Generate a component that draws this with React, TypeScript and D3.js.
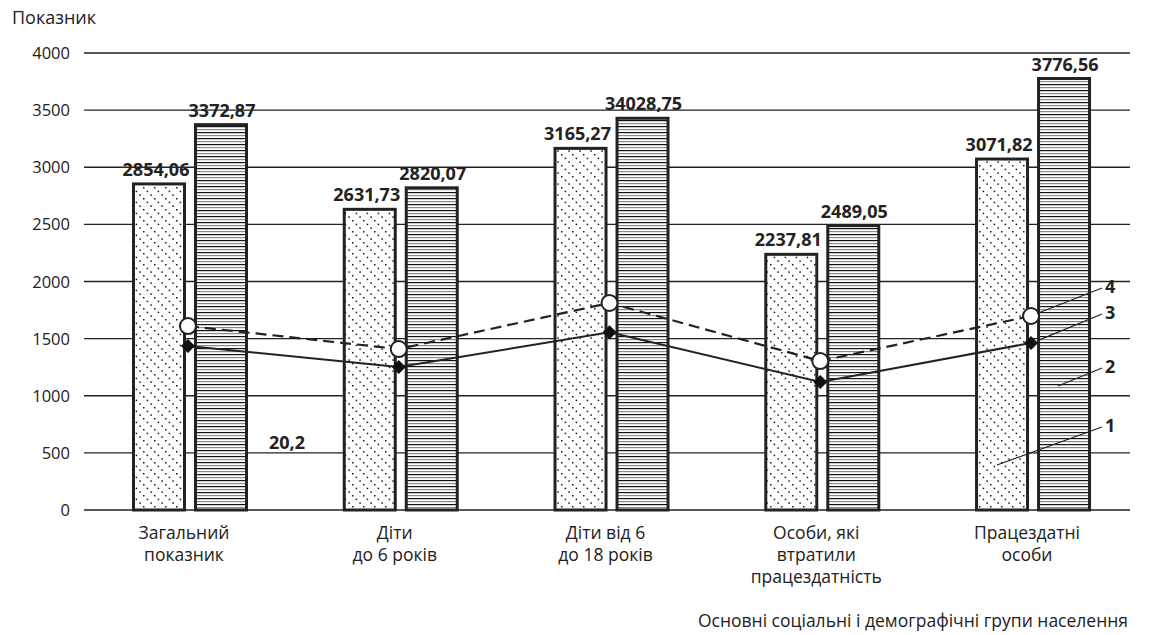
import React from "react";
import * as d3 from "d3";

const categories: string[][] = [
  ["Загальний", "показник"],
  ["Діти", "до 6 років"],
  ["Діти від 6", "до 18 років"],
  ["Особи, які", "втратили", "працездатність"],
  ["Працездатні", "особи"],
];
const series1: number[] = [2854.06, 2631.73, 3165.27, 2237.81, 3071.82];
const series2: number[] = [3372.87, 2820.07, 3428.75, 2489.05, 3776.56];
const series1Labels: string[] = ["2854,06", "2631,73", "3165,27", "2237,81", "3071,82"];
const series2Labels: string[] = ["3372,87", "2820,07", "34028,75", "2489,05", "3776,56"];
const series3: number[] = [1435, 1252, 1555, 1120, 1462];
const series4: number[] = [1610, 1409, 1812, 1304, 1698];
const yTicks: number[] = [0, 500, 1000, 1500, 2000, 2500, 3000, 3500, 4000];
const strayLabel = { text: "20,2", value: 500 };
const yTitle = "Показник";
const xTitle = "Основні соціальні і демографічні групи населення";
// legend leaders: anchor on last group, value at start and end
const leaders = [
  { num: "1", anchor: "s1", fromValue: 394, toValue: 726 },
  { num: "2", anchor: "s2", fromValue: 1085, toValue: 1243 },
  { num: "3", anchor: "l3", fromValue: 1480, toValue: 1716 },
  { num: "4", anchor: "l4", fromValue: 1720, toValue: 1943 },
];

const FONT = "'Open Sans', 'Noto Sans', sans-serif";

export default function App() {
  const W = 1160;
  const H = 635;
  const gridX0 = 84;
  const gridX1 = 1130;
  const keys = categories.map((c) => c.join(" "));
  const x0 = d3.scaleBand<string>().domain(keys).range([84.6, 1138.4]).padding(0);
  const x1 = d3
    .scaleBand<string>()
    .domain(["s1", "s2"])
    .range([48.9, 161.9])
    .paddingInner(11 / 62)
    .paddingOuter(0);
  const y = d3.scaleLinear().domain([0, 4000]).range([510, 53]);
  const bw = x1.bandwidth();
  const center = (i: number) => (x0(keys[i]) as number) + x0.bandwidth() / 2;
  const ptX = (i: number) => center(i) - 2;

  const lineGen = d3
    .line<number>()
    .x((_, i) => ptX(i))
    .y((d) => y(d));

  const last = keys.length - 1;
  const anchorX = (a: string) => {
    const b = x0(keys[last]) as number;
    if (a === "s1") return b + (x1("s1") as number) + bw * 0.4;
    if (a === "s2") return b + (x1("s2") as number) + bw * 0.38;
    return ptX(last) + 6;
  };
  const labelX = gridX1 - 25;

  return (
    <svg width={W} height={H} style={{ position: "absolute", left: 0, top: 0, background: "#fff" }}>
      <defs>
        <pattern id="hatch" patternUnits="userSpaceOnUse" width={11} height={11}>
          <rect width={11} height={11} fill="#fff" />
          {[0, 3.67, 7.33].map((d) => (
            <rect key={d} x={d} y={d} width={1.5} height={1.5} fill="#1a1a1a" />
          ))}
        </pattern>
        <pattern id="horiz" patternUnits="userSpaceOnUse" width={8} height={6}>
          <rect width={8} height={6} fill="#fff" />
          <rect y={0} width={8} height={1.2} fill="#111" />
          <rect y={3} width={8} height={1.2} fill="#8a8a8a" />
        </pattern>
      </defs>

      <text x={12} y={24} fontFamily={FONT} fontSize={18} fill="#222">
        {yTitle}
      </text>

      {yTicks.map((t) => (
        <g key={t}>
          <line x1={gridX0} x2={gridX1} y1={y(t)} y2={y(t)} stroke="#222" strokeWidth={1.4} />
          <text
            x={70}
            y={y(t) + 6}
            textAnchor="end"
            fontFamily={FONT}
            fontSize={16.5}
            fill="#222"
          >
            {t}
          </text>
        </g>
      ))}

      {keys.map((k, i) => {
        const bx = x0(k) as number;
        const xs1 = bx + (x1("s1") as number);
        const xs2 = bx + (x1("s2") as number);
        return (
          <g key={k}>
            <rect
              x={xs1}
              y={y(series1[i])}
              width={bw}
              height={y(0) - y(series1[i])}
              fill="url(#hatch)"
              stroke="#222"
              strokeWidth={3}
            />
            <rect
              x={xs2}
              y={y(series2[i])}
              width={bw}
              height={y(0) - y(series2[i])}
              fill="url(#horiz)"
              stroke="#222"
              strokeWidth={3}
            />
            <text
              x={xs1 + bw / 2 - 3}
              y={y(series1[i]) - 8}
              textAnchor="middle"
              fontFamily={FONT}
              fontWeight={700}
              fontSize={18}
              fill="#222"
            >
              {series1Labels[i]}
            </text>
            <text
              x={xs2 + bw / 2 + 1}
              y={y(series2[i]) - 8}
              textAnchor="middle"
              fontFamily={FONT}
              fontWeight={700}
              fontSize={18}
              fill="#222"
            >
              {series2Labels[i]}
            </text>
            <text textAnchor="middle" fontFamily={FONT} fontSize={17.5} fill="#222">
              {categories[i].map((line, j) => (
                <tspan key={j} x={center(i) - 6} y={539 + j * 22}>
                  {line}
                </tspan>
              ))}
            </text>
          </g>
        );
      })}

      <text
        x={center(0) + 97}
        y={y(strayLabel.value) - 4}
        textAnchor="middle"
        fontFamily={FONT}
        fontWeight={700}
        fontSize={18}
        fill="#222"
      >
        {strayLabel.text}
      </text>

      <path d={lineGen(series3) || ""} fill="none" stroke="#222" strokeWidth={2} />
      <path
        d={lineGen(series4) || ""}
        fill="none"
        stroke="#222"
        strokeWidth={2.2}
        strokeDasharray="11 6"
      />
      {series3.map((v, i) => (
        <rect
          key={"d" + i}
          x={ptX(i) - 5}
          y={y(v) - 5}
          width={10}
          height={10}
          fill="#111"
          transform={`rotate(45 ${ptX(i)} ${y(v)})`}
        />
      ))}
      {series4.map((v, i) => (
        <circle key={"c" + i} cx={ptX(i)} cy={y(v)} r={8} fill="#fff" stroke="#222" strokeWidth={2} />
      ))}

      {leaders.map((l) => (
        <g key={l.num}>
          <line
            x1={anchorX(l.anchor)}
            y1={y(l.fromValue)}
            x2={labelX - 3}
            y2={y(l.toValue)}
            stroke="#222"
            strokeWidth={1.2}
          />
          <text
            x={labelX}
            y={y(l.toValue) + 5}
            fontFamily={FONT}
            fontWeight={700}
            fontSize={18}
            fill="#222"
          >
            {l.num}
          </text>
        </g>
      ))}

      <text x={1128} y={627} textAnchor="end" fontFamily={FONT} fontSize={17.5} fill="#222">
        {xTitle}
      </text>
    </svg>
  );
}
